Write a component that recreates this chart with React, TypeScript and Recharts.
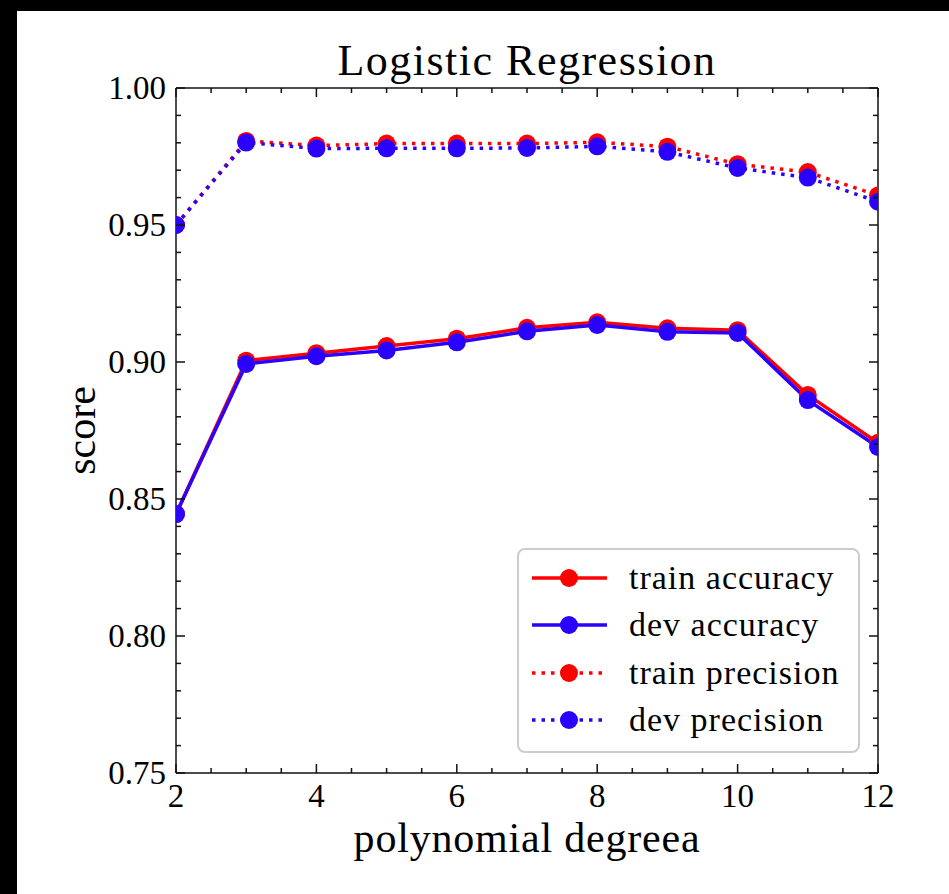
import React from 'react';
import { LineChart, Line, XAxis, YAxis, Legend, Label } from 'recharts';

const degrees = [2, 3, 4, 5, 6, 7, 8, 9, 10, 11, 12];
const trainAccuracy = [0.8445, 0.9005, 0.9032, 0.9058, 0.9085, 0.9125, 0.9145, 0.9123, 0.9116, 0.8880, 0.8705];
const devAccuracy = [0.8445, 0.8993, 0.9021, 0.9042, 0.9072, 0.9112, 0.9135, 0.9110, 0.9106, 0.8861, 0.8690];
const trainPrecision = [0.9500, 0.9807, 0.9790, 0.9797, 0.9797, 0.9797, 0.9802, 0.9786, 0.9722, 0.9693, 0.9608];
const devPrecision = [0.9500, 0.9801, 0.9779, 0.9780, 0.9780, 0.9781, 0.9787, 0.9767, 0.9708, 0.9673, 0.9585];

const seriesNames = ['train accuracy', 'dev accuracy', 'train precision', 'dev precision'];

const xMajorTicks = [2, 4, 6, 8, 10, 12];
const xAllTicks = [2, 2.5, 3, 3.5, 4, 4.5, 5, 5.5, 6, 6.5, 7, 7.5, 8, 8.5, 9, 9.5, 10, 10.5, 11, 11.5, 12];
const yMajorTicks = [0.75, 0.8, 0.85, 0.9, 0.95, 1.0];
const yTickLabels = ['0.75', '0.80', '0.85', '0.90', '0.95', '1.00'];
const yAllTicks = [
  0.75, 0.76, 0.77, 0.78, 0.79, 0.8, 0.81, 0.82, 0.83, 0.84, 0.85, 0.86, 0.87,
  0.88, 0.89, 0.9, 0.91, 0.92, 0.93, 0.94, 0.95, 0.96, 0.97, 0.98, 0.99, 1.0,
];

const RED = '#ff0000';
const BLUE = '#2a00ff';
const FONT = "'Liberation Serif', 'DejaVu Serif', serif";
const DOT_R = 9;

const data = degrees.map((d, i) => ({
  degree: d,
  trainAccuracy: trainAccuracy[i],
  devAccuracy: devAccuracy[i],
  trainPrecision: trainPrecision[i],
  devPrecision: devPrecision[i],
}));

const isMajor = (v: number, majors: number[]) => majors.some((m) => Math.abs(m - v) < 1e-9);

const MAJOR = 9;
const MINOR = 5;
const TICK_STROKE = '#111';

const BottomTick = (props: any) => {
  const { x, y, payload } = props;
  const major = isMajor(payload.value, xMajorTicks);
  return (
    <g>
      <line x1={x} y1={y} x2={x} y2={y - (major ? MAJOR : MINOR)} stroke={TICK_STROKE} strokeWidth={1.5} />
      {major && (
        <text x={x} y={y + 34} textAnchor="middle" fontFamily={FONT} fontSize={33} fill="#000">
          {payload.value}
        </text>
      )}
    </g>
  );
};

const TopTick = (props: any) => {
  const { x, y, payload } = props;
  const major = isMajor(payload.value, xMajorTicks);
  return <line x1={x} y1={y} x2={x} y2={y + (major ? MAJOR : MINOR)} stroke={TICK_STROKE} strokeWidth={1.5} />;
};

const LeftTick = (props: any) => {
  const { x, y, payload } = props;
  const idx = yMajorTicks.findIndex((m) => Math.abs(m - payload.value) < 1e-9);
  const major = idx >= 0;
  return (
    <g>
      <line x1={x} y1={y} x2={x + (major ? MAJOR : MINOR)} y2={y} stroke={TICK_STROKE} strokeWidth={1.5} />
      {major && (
        <text x={x - 10} y={y + 11} textAnchor="end" fontFamily={FONT} fontSize={33} fill="#000">
          {yTickLabels[idx]}
        </text>
      )}
    </g>
  );
};

const RightTick = (props: any) => {
  const { x, y, payload } = props;
  const major = isMajor(payload.value, yMajorTicks);
  return <line x1={x} y1={y} x2={x - (major ? MAJOR : MINOR)} y2={y} stroke={TICK_STROKE} strokeWidth={1.5} />;
};

const renderLegend = (props: any) => {
  const items = [...(props.payload || [])].sort(
    (a: any, b: any) => seriesNames.indexOf(a.value) - seriesNames.indexOf(b.value),
  );
  return (
    <div
      style={{
        boxSizing: 'border-box',
        width: 343,
        height: 205,
        border: '2px solid #cccccc',
        borderRadius: 8,
        background: 'rgba(255,255,255,0.85)',
        paddingTop: 4,
        paddingLeft: 10,
      }}
    >
      {items.map((entry: any) => {
        const dash = entry.payload && entry.payload.strokeDasharray;
        return (
          <div key={entry.value} style={{ display: 'flex', alignItems: 'center', height: 47.5 }}>
            <svg width={90} height={30} style={{ display: 'block' }}>
              <line x1={3} y1={15} x2={78} y2={15} stroke={entry.color} strokeWidth={3.5} strokeDasharray={dash} />
              <circle cx={40} cy={15} r={DOT_R} fill={entry.color} />
            </svg>
            <span
              style={{
                fontFamily: FONT,
                fontSize: 34,
                letterSpacing: 1,
                color: '#000',
                marginLeft: 10,
                whiteSpace: 'nowrap',
                lineHeight: '34px',
              }}
            >
              {entry.value}
            </span>
          </div>
        );
      })}
    </div>
  );
};

export default function App() {
  return (
    <div style={{ position: 'absolute', left: 0, top: 0, width: 949, height: 894, background: '#fff', overflow: 'hidden' }}>
      <div style={{ position: 'absolute', left: 0, top: 0, width: 949, height: 11, background: '#000' }} />
      <div style={{ position: 'absolute', left: 0, top: 0, width: 17, height: 894, background: '#000' }} />
      <div style={{ position: 'absolute', left: 0, top: 0 }}>
        <LineChart width={949} height={894} data={data} margin={{ top: 0, right: 0, bottom: 0, left: 0 }}>
          <XAxis
            xAxisId="bottom"
            dataKey="degree"
            type="number"
            domain={[2, 12]}
            allowDataOverflow
            ticks={xAllTicks}
            interval={0}
            tickSize={0}
            tickMargin={0}
            tickLine={false}
            height={121}
            axisLine={{ stroke: TICK_STROKE, strokeWidth: 1.5 }}
            tick={<BottomTick />}
          >
            <Label
              value="polynomial degreea"
              position="insideBottom"
              offset={42}
              style={{ fontFamily: FONT, fontSize: 42, letterSpacing: 0.8, fill: '#000' }}
            />
          </XAxis>
          <XAxis
            xAxisId="top"
            orientation="top"
            dataKey="degree"
            type="number"
            domain={[2, 12]}
            allowDataOverflow
            ticks={xAllTicks}
            interval={0}
            tickSize={0}
            tickMargin={0}
            tickLine={false}
            height={88}
            axisLine={{ stroke: TICK_STROKE, strokeWidth: 1.5 }}
            tick={<TopTick />}
          >
            <Label
              value="Logistic Regression"
              position="insideBottom"
              offset={13}
              style={{ fontFamily: FONT, fontSize: 44, letterSpacing: 1.5, fill: '#000' }}
            />
          </XAxis>
          <YAxis
            yAxisId="left"
            type="number"
            domain={[0.75, 1.0]}
            allowDataOverflow
            ticks={yAllTicks}
            interval={0}
            tickSize={0}
            tickMargin={0}
            tickLine={false}
            width={176}
            axisLine={{ stroke: TICK_STROKE, strokeWidth: 1.5 }}
            tick={<LeftTick />}
          >
            <Label
              value="score"
              angle={-90}
              position="center"
              dx={-8}
              style={{ fontFamily: FONT, fontSize: 42, fill: '#000', textAnchor: 'middle' }}
            />
          </YAxis>
          <YAxis
            yAxisId="right"
            orientation="right"
            type="number"
            domain={[0.75, 1.0]}
            allowDataOverflow
            ticks={yAllTicks}
            interval={0}
            tickSize={0}
            tickMargin={0}
            tickLine={false}
            width={71}
            axisLine={{ stroke: TICK_STROKE, strokeWidth: 1.5 }}
            tick={<RightTick />}
          />
          <Legend
            layout="vertical"
            align="center"
            verticalAlign="middle"
            content={renderLegend}
            wrapperStyle={{ position: 'absolute', left: 517, top: 548, width: 343, height: 205 }}
          />
          <Line
            xAxisId="bottom"
            yAxisId="left"
            dataKey="trainAccuracy"
            name="train accuracy"
            stroke={RED}
            strokeWidth={3.5}
            dot={{ r: DOT_R, fill: RED, stroke: 'none' }}
            activeDot={false}
            isAnimationActive={false}
          />
          <Line
            xAxisId="bottom"
            yAxisId="left"
            dataKey="devAccuracy"
            name="dev accuracy"
            stroke={BLUE}
            strokeWidth={3.5}
            dot={{ r: DOT_R, fill: BLUE, stroke: 'none' }}
            activeDot={false}
            isAnimationActive={false}
          />
          <Line
            xAxisId="bottom"
            yAxisId="left"
            dataKey="trainPrecision"
            name="train precision"
            stroke={RED}
            strokeWidth={3.5}
            strokeDasharray="3.5 6"
            dot={{ r: DOT_R, fill: RED, stroke: 'none', strokeDasharray: '' }}
            activeDot={false}
            isAnimationActive={false}
          />
          <Line
            xAxisId="bottom"
            yAxisId="left"
            dataKey="devPrecision"
            name="dev precision"
            stroke={BLUE}
            strokeWidth={3.5}
            strokeDasharray="3.5 6"
            dot={{ r: DOT_R, fill: BLUE, stroke: 'none', strokeDasharray: '' }}
            activeDot={false}
            isAnimationActive={false}
          />
        </LineChart>
      </div>
    </div>
  );
}
